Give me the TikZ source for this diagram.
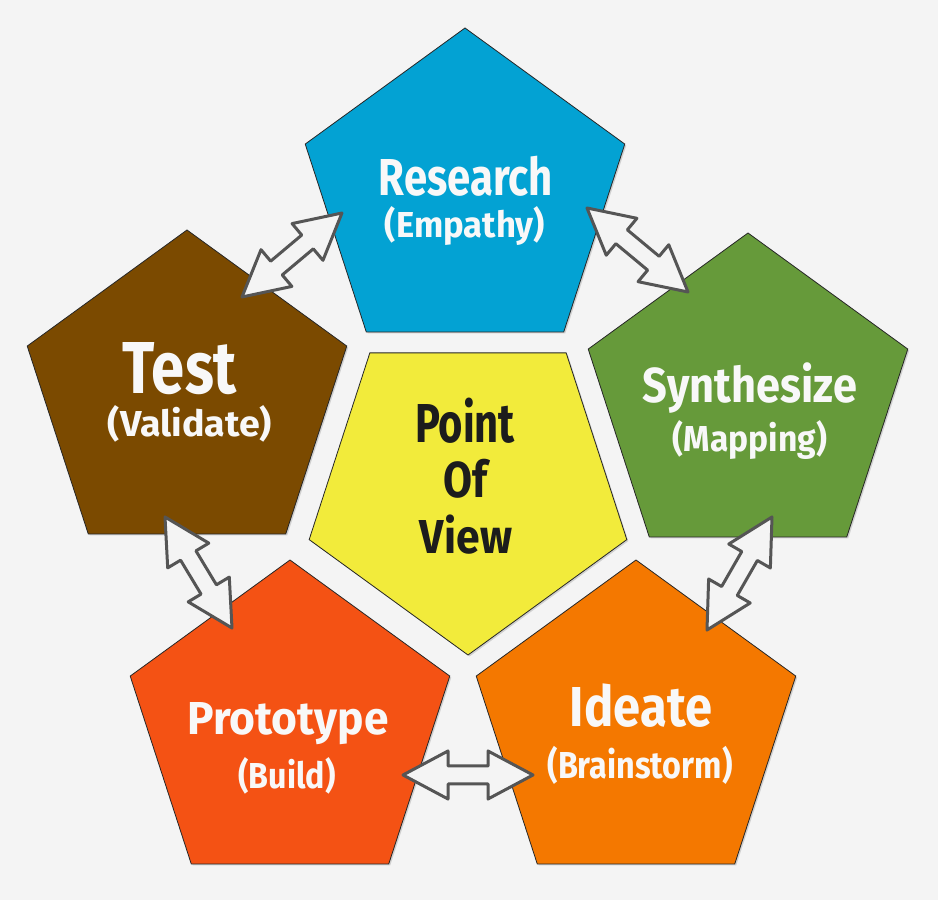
\documentclass[tikz,border=0pt]{standalone}
\usepackage{fontspec}
\setmainfont{Fira Sans}[FakeStretch=0.85]
\usetikzlibrary{shapes.geometric,calc,shadows}
\definecolor{bg}{HTML}{F4F4F4}
\definecolor{cblue}{HTML}{03A2D3}
\definecolor{cbrown}{HTML}{7B4A00}
\definecolor{cgreen}{HTML}{669A3A}
\definecolor{cproto}{HTML}{F45214}
\definecolor{cideate}{HTML}{F47800}
\definecolor{cyellow}{HTML}{F2EB3B}
\definecolor{txtw}{HTML}{F8F8F8}
\definecolor{txtd}{HTML}{1C1C1C}
\definecolor{arrline}{HTML}{555555}
% width, cap height, text
\newcommand\capbox[3]{\resizebox{#1}{#2}{\smash{#3}\rule{0pt}{\fontcharht\font`E}}}
\newcommand\blockarrow[2]{%
  \draw[dblarr] let \p1=($(#2)-(#1)$), \n1={atan2(\y1,\x1)}, \n2={veclen(\x1,\y1)} in
    [shift={(#1)}, rotate=\n1]
    (0,0) -- (45,24) -- (45,9) -- (\n2-45,9) -- (\n2-45,24) -- (\n2,0)
    -- (\n2-45,-24) -- (\n2-45,-9) -- (45,-9) -- (45,-24) -- cycle;}
\begin{document}
\begin{tikzpicture}[x=1pt,y=1pt,
  penta/.style={regular polygon, regular polygon sides=5, minimum size=336pt,
    inner sep=0pt, outer sep=0pt, draw=black!85, line width=0.8pt,
    drop shadow={shadow xshift=1.5pt, shadow yshift=-1.5pt, opacity=0.3}},
  dblarr/.style={draw=arrline, fill=bg, line width=3pt, line join=round},
  ttl/.style={anchor=base, text=txtw, font=\bfseries, inner sep=0pt},
  ttd/.style={anchor=base, text=txtd, font=\bfseries, inner sep=0pt}]
\fill[bg] (0,0) rectangle (938,900);
\useasboundingbox (0,0) rectangle (938,900);

% pentagons
\node[penta, fill=cblue] (research) at (465,704) {};
\node[penta, fill=cbrown] (test) at (187,502) {};
\node[penta, fill=cgreen] (synth) at (748,499) {};
\node[penta, fill=cproto] (proto) at (290,172) {};
\node[penta, fill=cideate] (ideate) at (636,172) {};
\node[penta, fill=cyellow, minimum size=334pt, shape border rotate=180] (pov) at (468,412) {};

% arrow ends
\coordinate (t1) at (242,603);
\coordinate (r1) at (342,687);
\coordinate (r2) at (587,692);
\coordinate (s2) at (688,608);
\coordinate (s3) at (772,383);
\coordinate (i3) at (707,270);
\coordinate (p4) at (403,125);
\coordinate (i4) at (533,125);
\coordinate (t5) at (165,383);
\coordinate (p5) at (232,272);

\blockarrow{t1}{r1}
\blockarrow{r2}{s2}
\blockarrow{s3}{i3}
\blockarrow{p4}{i4}
\blockarrow{t5}{p5}

% texts
\node[ttl] (tr1) at (466,704) {\capbox{174pt}{36pt}{Research}};
\node[ttl] (tr2) at (465,662) {\capbox{160pt}{25pt}{(Empathy)}};
\node[ttl] (tt1) at (180,506) {\capbox{114pt}{51pt}{Test}};
\node[ttl] (tt2) at (190,463) {\capbox{164pt}{25pt}{(Validate)}};
\node[ttl] (ts1) at (750,497) {\capbox{214pt}{34pt}{Synthesize}};
\node[ttl] (ts2) at (750,448) {\capbox{154pt}{25pt}{(Mapping)}};
\node[ttl] (tp1) at (288,165) {\capbox{201pt}{32pt}{Prototype}};
\node[ttl] (tp2) at (287,111) {\capbox{97pt}{25pt}{(Build)}};
\node[ttl] (ti1) at (641,173) {\capbox{142pt}{39pt}{Ideate}};
\node[ttl] (ti2) at (640,121) {\capbox{185pt}{26pt}{(Brainstorm)}};
\node[ttd] (tv1) at (465,457) {\capbox{100pt}{38pt}{Point}};
\node[ttd] (tv2) at (465,402) {\capbox{44pt}{35pt}{Of}};
\node[ttd] (tv3) at (466,346) {\capbox{92pt}{33pt}{View}};
\end{tikzpicture}
\end{document}
